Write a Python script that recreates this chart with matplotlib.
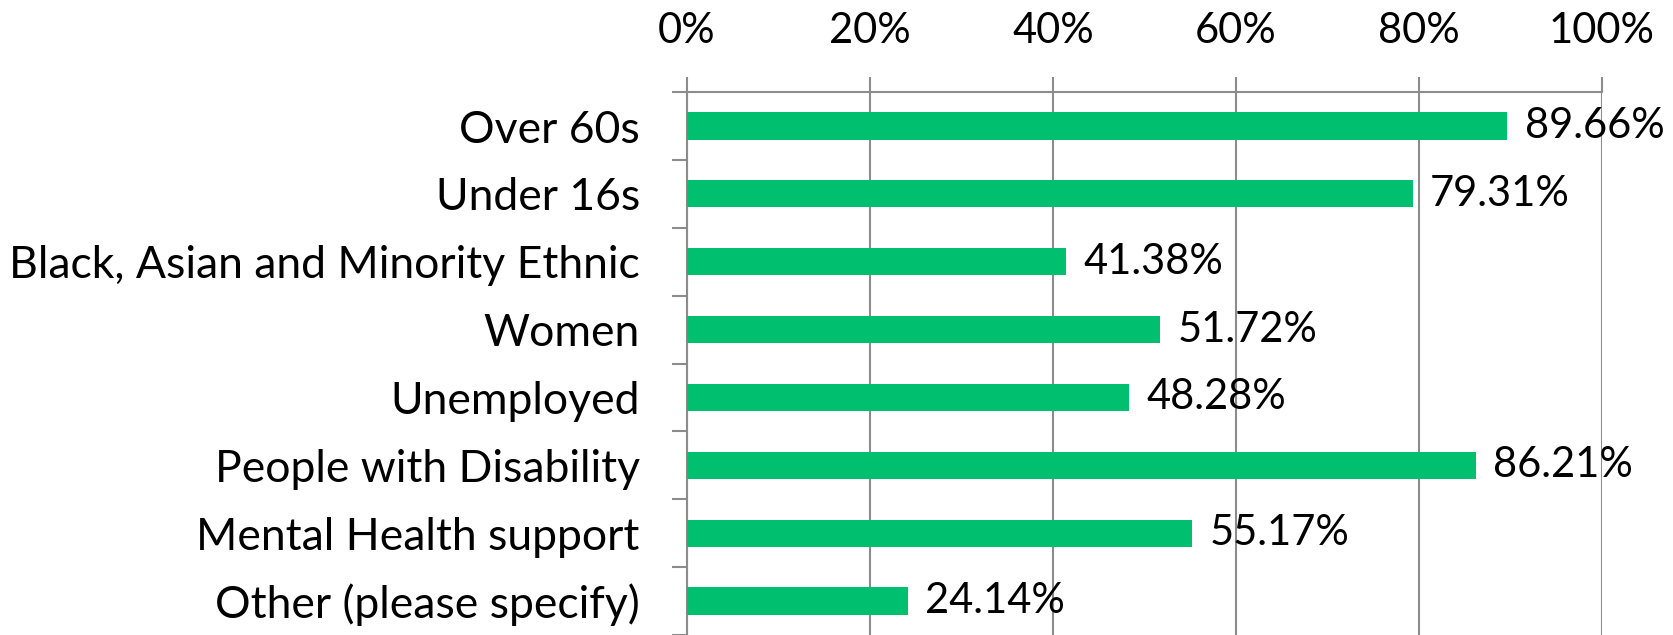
import numpy as np
import matplotlib.pyplot as plt
from matplotlib.ticker import FixedLocator

# Datos
categorias = ['Over 60s', 'Under 16s', 'Black, Asian and Minority Ethnic', 'Women',
              'Unemployed', 'People with Disability', 'Mental Health support',
              'Other (please specify)']
valores = [89.66, 79.31, 41.38, 51.72, 48.28, 86.21, 55.17, 24.14]
ticks_x = [0, 20, 40, 60, 80, 100]

plt.rcParams['font.family'] = ['Lato', 'DejaVu Sans']
gris = '#8c8c8c'
verde = '#00BF6F'
tam = 30

fig = plt.figure(figsize=(16.73, 6.35), dpi=100)
ax = fig.add_axes([687 / 1673, 0.0, 915 / 1673, 0.855])

y = np.arange(len(categorias))
ax.barh(y, valores, height=0.4, color=verde, zorder=3)
for yi, v in zip(y, valores):
    ax.text(v + 1.9, yi, f'{v:.2f}%', va='center', ha='left', fontsize=tam, zorder=4)

ax.set_xlim(0, 100)
ax.set_ylim(len(categorias) - 0.5, -0.5)
ax.set_xticks(ticks_x)
ax.set_xticklabels([f'{t}%' for t in ticks_x], fontsize=tam)
ax.xaxis.tick_top()
ax.tick_params(axis='x', direction='out', length=11, width=1.5, color=gris, pad=19)
ax.grid(axis='x', color=gris, linewidth=1.5, zorder=0)

ax.set_yticks(y)
ax.set_yticklabels(categorias, fontsize=32)
ax.yaxis.set_minor_locator(FixedLocator(np.arange(len(categorias) + 1) - 0.5))
ax.tick_params(axis='y', which='major', length=0, pad=34)
ax.tick_params(axis='y', which='minor', direction='out', length=11, width=1.5, color=gris)

for lado in ['right', 'bottom']:
    ax.spines[lado].set_visible(False)
for lado in ['top', 'left']:
    ax.spines[lado].set_color(gris)
    ax.spines[lado].set_linewidth(1.5)

fig.savefig('out.png', dpi=100)
